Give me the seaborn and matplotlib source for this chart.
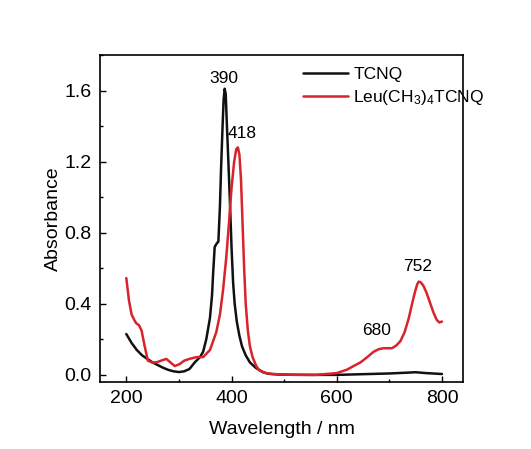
import numpy as np
import pandas as pd
import seaborn as sns
import matplotlib.pyplot as plt
from matplotlib.ticker import MultipleLocator

# TCNQ spectrum
tcnq_wl = [200, 210, 220, 230, 240, 250, 260, 270, 280, 290, 300, 310, 320, 330,
           340, 346, 352, 359, 363, 365, 368, 372, 375, 378, 380, 383, 385, 387,
           389, 391, 394, 397, 400, 403, 406, 410, 415, 420, 427, 435, 446, 460,
           471, 490, 550, 600, 650, 700, 730, 750, 770, 800]
tcnq_abs = [0.23, 0.18, 0.14, 0.11, 0.09, 0.07, 0.055, 0.04, 0.028, 0.02, 0.016,
            0.02, 0.033, 0.07, 0.1, 0.13, 0.2, 0.32, 0.45, 0.57, 0.72, 0.74, 0.75,
            0.95, 1.15, 1.4, 1.55, 1.61, 1.58, 1.42, 1.2, 0.97, 0.72, 0.52, 0.4,
            0.3, 0.22, 0.16, 0.11, 0.07, 0.04, 0.015, 0.006, 0.002, 0.0, 0.0,
            0.004, 0.008, 0.012, 0.015, 0.01, 0.005]

# Leu(CH3)4TCNQ spectrum
leu_wl = [200, 205, 210, 215, 219, 224, 229, 235, 241, 249, 257, 266, 276, 284,
          292, 301, 310, 320, 333, 346, 359, 371, 378, 384, 390, 395, 400, 405,
          409, 412, 415, 418, 421, 424, 427, 431, 435, 440, 447, 453, 465, 478,
          520, 560, 600, 620, 632, 645, 658, 670, 680, 689, 697, 705, 713, 721,
          729, 737, 744, 749, 753, 756, 760, 765, 771, 778, 784, 790, 795, 800]
leu_abs = [0.545, 0.42, 0.34, 0.31, 0.29, 0.28, 0.25, 0.16, 0.08, 0.07, 0.07,
           0.08, 0.09, 0.07, 0.05, 0.06, 0.08, 0.09, 0.1, 0.1, 0.14, 0.24, 0.34,
           0.48, 0.66, 0.85, 1.05, 1.2, 1.27, 1.28, 1.24, 1.1, 0.85, 0.6, 0.4,
           0.25, 0.16, 0.1, 0.05, 0.025, 0.01, 0.005, 0.0, 0.0, 0.01, 0.03,
           0.05, 0.07, 0.1, 0.13, 0.145, 0.15, 0.15, 0.15, 0.165, 0.19, 0.24,
           0.32, 0.41, 0.47, 0.51, 0.525, 0.52, 0.5, 0.46, 0.4, 0.35, 0.31,
           0.295, 0.3]

peak_labels = ["390", "418", "680", "752"]
peak_pos = [(386, 1.67), (420, 1.36), (676, 0.25), (754, 0.61)]

df = pd.concat([
    pd.DataFrame({"wl": tcnq_wl, "abs": tcnq_abs, "sample": "TCNQ"}),
    pd.DataFrame({"wl": leu_wl, "abs": leu_abs, "sample": "Leu(CH$_3$)$_4$TCNQ"}),
])

sns.set_style("ticks")
plt.rcParams['font.family'] = ['Liberation Sans', 'DejaVu Sans']
plt.rcParams['mathtext.fontset'] = 'custom'
plt.rcParams['mathtext.rm'] = 'Liberation Sans'
plt.rcParams['mathtext.it'] = 'Liberation Sans'
plt.rcParams['text.color'] = 'black'
plt.rcParams['axes.labelcolor'] = 'black'
plt.rcParams['xtick.color'] = 'black'
plt.rcParams['ytick.color'] = 'black'

fig = plt.figure(figsize=(5.31, 4.49), dpi=100)
ax = fig.add_axes([100 / 531, 1 - 382 / 449, 363 / 531, 327 / 449])

sns.lineplot(data=df, x="wl", y="abs", hue="sample",
             palette=["#111111", "#d8232a"], linewidth=1.8, ax=ax,
             sort=False, estimator=None)

for lab, (x, y) in zip(peak_labels, peak_pos):
    ax.text(x, y, lab, ha="center", va="center", fontsize=12.5)

ax.set_xlim(150, 840)
ax.set_ylim(-0.04, 1.8)
ax.xaxis.set_major_locator(MultipleLocator(200))
ax.xaxis.set_minor_locator(MultipleLocator(100))
ax.yaxis.set_major_locator(MultipleLocator(0.4))
ax.yaxis.set_minor_locator(MultipleLocator(0.2))
ax.tick_params(which="both", direction="in", labelsize=14)
ax.tick_params(which="major", length=4, width=1)
ax.tick_params(which="minor", length=2.5, width=1)
ax.tick_params(axis="x", pad=6)
ax.tick_params(axis="y", pad=6)
ax.yaxis.set_major_formatter(plt.FormatStrFormatter("%.1f"))
for s in ax.spines.values():
    s.set_linewidth(1.2)
    s.set_color("black")

ax.set_xlabel("Wavelength / nm", fontsize=14, labelpad=10)
ax.set_ylabel("Absorbance", fontsize=14, labelpad=2)

leg = ax.legend(loc="upper left", bbox_to_anchor=(0.54, 0.985), frameon=False,
                fontsize=12.5, handlelength=2.6, handletextpad=0.3,
                labelspacing=0.35, borderaxespad=0)
leg.set_title(None)

fig.savefig("out.png", dpi=100)
